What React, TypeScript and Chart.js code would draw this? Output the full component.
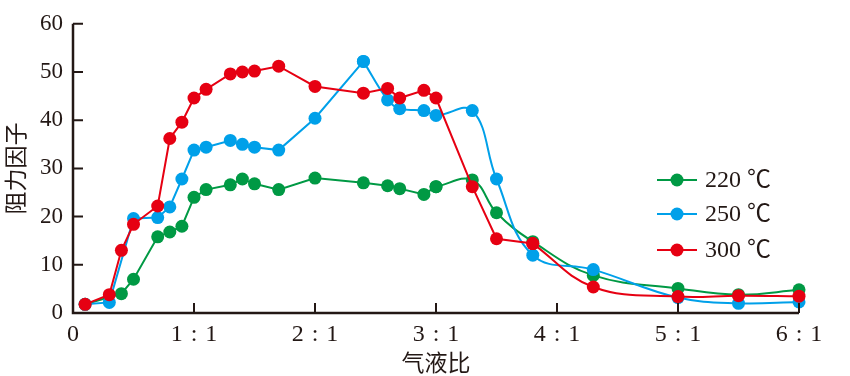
import React, { useEffect, useRef } from "react";
import { Chart, registerables } from "chart.js";

Chart.register(...registerables);

// ---- data ----
const seriesNames = ["220 ℃", "250 ℃", "300 ℃"];
const xTickValues = [0, 1, 2, 3, 4, 5, 6];
const xTickLabels = ["0", "1\u2004:\u20041", "2\u2004:\u20041", "3\u2004:\u20041", "4\u2004:\u20041", "5\u2004:\u20041", "6\u2004:\u20041"];
const yTickValues = [0, 10, 20, 30, 40, 50, 60];

const x220 = [0.1, 0.4, 0.5, 0.7, 0.8, 0.9, 1.0, 1.1, 1.3, 1.4, 1.5, 1.7, 2.0, 2.4, 2.6, 2.7, 2.9, 3.0, 3.3, 3.5, 3.8, 4.3, 5.0, 5.5, 6.0];
const y220 = [1.8, 4.0, 7.0, 15.8, 16.8, 18.0, 24.0, 25.6, 26.6, 27.8, 26.8, 25.6, 28.0, 27.0, 26.4, 25.8, 24.6, 26.2, 27.6, 20.8, 14.8, 7.8, 5.1, 3.8, 4.8];
const curve220From = 17; // index where smooth curve begins

const x250 = [0.1, 0.3, 0.5, 0.7, 0.8, 0.9, 1.0, 1.1, 1.3, 1.4, 1.5, 1.7, 2.0, 2.4, 2.6, 2.7, 2.9, 3.0, 3.3, 3.5, 3.8, 4.3, 5.0, 5.5, 6.0];
const y250 = [1.8, 2.2, 19.6, 19.8, 22.0, 27.8, 33.8, 34.4, 35.8, 35.0, 34.4, 33.8, 40.4, 52.2, 44.2, 42.4, 42.0, 41.0, 42.0, 27.8, 12.0, 9.0, 3.2, 2.0, 2.3];
const curve250From = 13;

const x300 = [0.1, 0.3, 0.4, 0.5, 0.7, 0.8, 0.9, 1.0, 1.1, 1.3, 1.4, 1.5, 1.7, 2.0, 2.4, 2.6, 2.7, 2.9, 3.0, 3.3, 3.5, 3.8, 4.3, 5.0, 5.5, 6.0];
const y300 = [1.8, 3.8, 13.0, 18.4, 22.2, 36.2, 39.6, 44.6, 46.4, 49.6, 50.0, 50.2, 51.2, 47.0, 45.6, 46.6, 44.6, 46.2, 44.6, 26.2, 15.4, 14.4, 5.4, 3.4, 3.6, 3.5];
const curve300From = 21;

const colors = ["#009944", "#00a0e9", "#e60012"];

const serif = "'Liberation Serif', 'Times New Roman', 'Noto Sans CJK SC', serif";
const cjk = "'Noto Sans CJK SC', 'Liberation Serif', serif";
const axisColor = "#231815";

function toPts(xs: number[], ys: number[]) {
  return xs.map((x, i) => ({ x, y: ys[i] }));
}

function makeSets(idx: number, xs: number[], ys: number[], from: number, order: number) {
  const pts = toPts(xs, ys);
  const base = {
    borderColor: colors[idx],
    backgroundColor: colors[idx],
    pointBackgroundColor: colors[idx],
    pointBorderColor: colors[idx],
    pointRadius: 6.5,
    pointBorderWidth: 0,
    pointHoverRadius: 6.5,
    borderWidth: 2,
    showLine: true,
    fill: false,
    clip: false as any,
    order,
  };
  return [
    { ...base, label: seriesNames[idx], data: pts.slice(0, from + 1), tension: 0 },
    { ...base, label: seriesNames[idx] + "_c", data: pts.slice(from), tension: 0.4 },
  ];
}

const axesPlugin = {
  id: "customAxes",
  afterDatasetsDraw(chart: any) {
    const ctx = chart.ctx;
    const xs = chart.scales.x;
    const ys = chart.scales.y;
    const x0 = xs.getPixelForValue(0);
    const x6 = xs.getPixelForValue(6);
    const y0 = ys.getPixelForValue(0);
    const y60 = ys.getPixelForValue(60);
    ctx.save();
    ctx.strokeStyle = axisColor;
    ctx.lineWidth = 2.5;
    ctx.beginPath();
    ctx.moveTo(x0, y60);
    ctx.lineTo(x0, y0);
    ctx.lineTo(x6, y0);
    ctx.stroke();
    ctx.lineWidth = 2;
    ctx.beginPath();
    yTickValues.forEach((v) => {
      if (v === 0) return;
      const p = ys.getPixelForValue(v);
      ctx.moveTo(x0, p);
      ctx.lineTo(x0 + 10, p);
    });
    xTickValues.forEach((v) => {
      if (v === 0) return;
      const p = xs.getPixelForValue(v);
      ctx.moveTo(p, y0);
      ctx.lineTo(p, y0 - 10);
    });
    ctx.stroke();

    // legend
    const lx = 657;
    const ly = [180, 214, 250];
    ctx.font = `24px ${serif}`;
    ctx.textBaseline = "middle";
    ctx.textAlign = "left";
    seriesNames.forEach((name, i) => {
      ctx.strokeStyle = colors[i];
      ctx.fillStyle = colors[i];
      ctx.lineWidth = 2;
      ctx.beginPath();
      ctx.moveTo(lx, ly[i]);
      ctx.lineTo(lx + 40, ly[i]);
      ctx.stroke();
      ctx.beginPath();
      ctx.arc(lx + 20, ly[i], 6.5, 0, Math.PI * 2);
      ctx.fill();
      ctx.fillStyle = axisColor;
      ctx.fillText(name, lx + 48, ly[i] + 1);
    });
    ctx.restore();
  },
};

export default function App() {
  const ref = useRef<HTMLCanvasElement | null>(null);
  useEffect(() => {
    document.body.style.margin = "0";
    if (!ref.current) return;
    const datasets = [
      ...makeSets(2, x300, y300, curve300From, 0),
      ...makeSets(1, x250, y250, curve250From, 1),
      ...makeSets(0, x220, y220, curve220From, 2),
    ];
    const chart = new Chart(ref.current, {
      type: "scatter",
      data: { datasets: datasets as any },
      options: {
        animation: false,
        responsive: false,
        maintainAspectRatio: false,
        layout: { padding: { left: 0, right: 51, top: 13, bottom: 0 } },
        plugins: { legend: { display: false }, tooltip: { enabled: false } },
        scales: {
          x: {
            type: "linear",
            min: 0,
            max: 6,
            afterFit: (s: any) => {
              s.height = 63;
            },
            afterBuildTicks: (s: any) => {
              s.ticks = xTickValues.map((v) => ({ value: v }));
            },
            grid: { display: false, drawTicks: false },
            border: { display: false },
            ticks: {
              padding: 7,
              color: axisColor,
              font: { family: serif, size: 24 },
              maxRotation: 0,
              autoSkip: false,
              callback: (v: any) => {
                const i = xTickValues.indexOf(Number(v));
                return i >= 0 ? xTickLabels[i] : "";
              },
            },
            title: {
              display: true,
              text: "气液比",
              color: axisColor,
              font: { family: cjk, size: 23 },
              padding: 0,
            },
          },
          y: {
            type: "linear",
            min: 0,
            max: 60,
            afterFit: (s: any) => {
              s.width = 73;
            },
            afterBuildTicks: (s: any) => {
              s.ticks = yTickValues.map((v) => ({ value: v }));
            },
            grid: { display: false, drawTicks: false },
            border: { display: false },
            ticks: {
              padding: 10,
              color: axisColor,
              font: { family: serif, size: 23 },
            },
            title: {
              display: true,
              text: "阻力因子",
              color: axisColor,
              font: { family: cjk, size: 23 },
              padding: 1,
            },
          },
        },
      },
      plugins: [axesPlugin],
    });
    return () => chart.destroy();
  }, []);
  return (
    <div style={{ width: 850, height: 376 }}>
      <canvas ref={ref} width={850} height={376} style={{ display: "block" }} />
    </div>
  );
}
